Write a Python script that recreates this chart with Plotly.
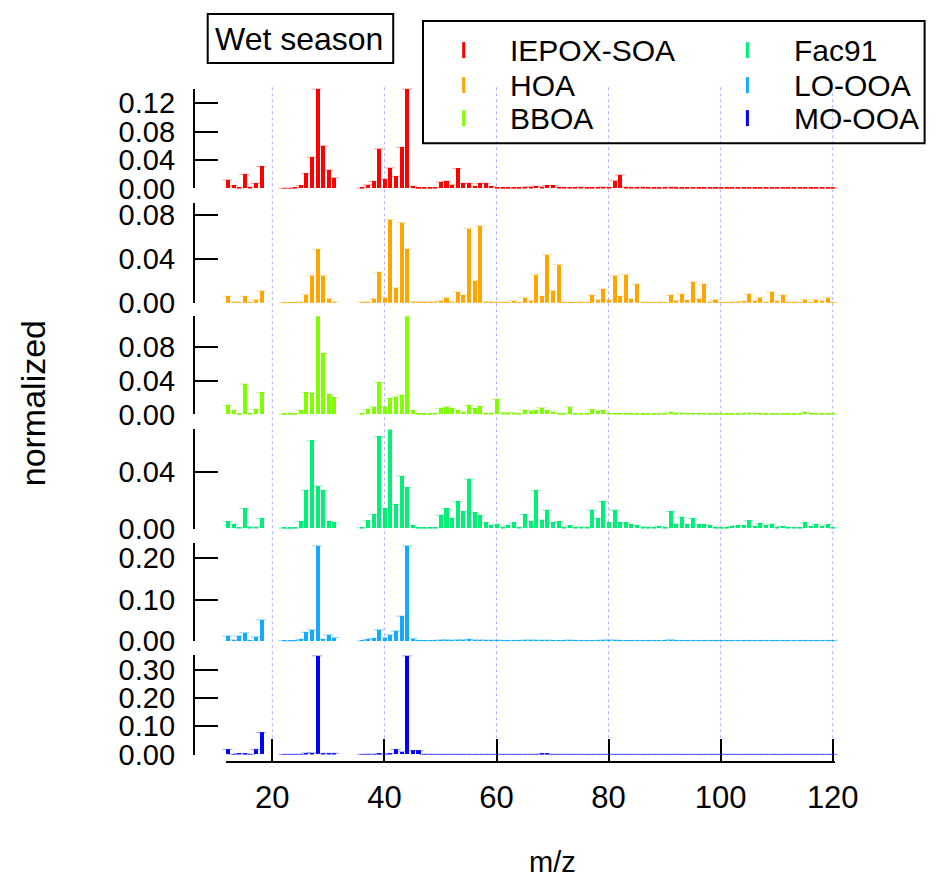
import plotly.graph_objects as go

# m/z channels (19-21 and 32-35 are not in the spectra)
mz = [12, 13, 14, 15, 16, 17, 18,
      22, 23, 24, 25, 26, 27, 28, 29, 30, 31,
      36, 37, 38, 39, 40, 41, 42, 43, 44, 45, 46, 47, 48, 49, 50,
      51, 52, 53, 54, 55, 56, 57, 58, 59, 60, 61, 62, 63, 64, 65,
      66, 67, 68, 69, 70, 71, 72, 73, 74, 75, 76, 77, 78, 79, 80,
      81, 82, 83, 84, 85, 86, 87, 88, 89, 90, 91, 92, 93, 94, 95,
      96, 97, 98, 99, 100, 101, 102, 103, 104, 105, 106, 107, 108, 109, 110,
      111, 112, 113, 114, 115, 116, 117, 118, 119, 120]

iepox_soa = [0.012, 0.004, 0.0005, 0.020, 0.002, 0.007, 0.031,
             0.0003, 0.0003, 0.001, 0.004, 0.021, 0.044, 0.140, 0.060, 0.026, 0.015,
             0.0005, 0.005, 0.010, 0.056, 0.013, 0.029, 0.017, 0.058, 0.140, 0.003, 0.0005, 0.0005, 0.0005, 0.001, 0.009,
             0.010, 0.005, 0.028, 0.007, 0.007, 0.003, 0.007, 0.007, 0.003, 0.001, 0.0005, 0.0005, 0.001, 0.0005, 0.002,
             0.002, 0.003, 0.002, 0.004, 0.004, 0.002, 0.001, 0.001, 0.001, 0.002, 0.001, 0.001, 0.001, 0.002, 0.001,
             0.011, 0.019, 0.002, 0.001, 0.001, 0.002, 0.0005, 0.0005, 0.0005, 0.0005, 0.002, 0.0005, 0.0005, 0.0005, 0.001,
             0.0005, 0.0005, 0.0005, 0.0005, 0.0005, 0.0005, 0.0005, 0.0005, 0.0005, 0.001, 0.0005, 0.0005, 0.0005, 0.0005, 0.0005,
             0.0005, 0.0005, 0.0005, 0.0005, 0.0005, 0.0005, 0.0005, 0.0005, 0.0005, 0.0005]

hoa = [0.006, 0.001, 0.0005, 0.006, 0.0005, 0.003, 0.011,
       0.0003, 0.0003, 0.0003, 0.001, 0.0077, 0.025, 0.049, 0.025, 0.004, 0.001,
       0.0005, 0.001, 0.004, 0.028, 0.005, 0.076, 0.0137, 0.073, 0.049, 0.001, 0.0005, 0.0005, 0.0005, 0.001, 0.002,
       0.005, 0.001, 0.010, 0.007, 0.068, 0.020, 0.070, 0.001, 0.001, 0.0005, 0.0005, 0.0005, 0.002, 0.0005, 0.005,
       0.002, 0.026, 0.006, 0.044, 0.011, 0.035, 0.0005, 0.0005, 0.0005, 0.0005, 0.0005, 0.007, 0.003, 0.0125, 0.003,
       0.025, 0.006, 0.026, 0.004, 0.017, 0.0005, 0.0005, 0.0005, 0.0005, 0.0005, 0.007, 0.002, 0.008, 0.0025, 0.019,
       0.004, 0.017, 0.001, 0.003, 0.0003, 0.0005, 0.0005, 0.001, 0.0015, 0.008, 0.002, 0.005, 0.001, 0.010, 0.002,
       0.007, 0.0005, 0.0005, 0.0005, 0.003, 0.0005, 0.003, 0.0015, 0.005, 0.0005]

bboa = [0.011, 0.005, 0.0005, 0.036, 0.0005, 0.006, 0.026,
        0.0005, 0.0005, 0.0005, 0.005, 0.026, 0.025, 0.117, 0.072, 0.024, 0.020,
        0.0005, 0.006, 0.009, 0.038, 0.009, 0.019, 0.021, 0.023, 0.117, 0.005, 0.001, 0.0005, 0.0005, 0.001, 0.007,
        0.009, 0.007, 0.005, 0.003, 0.011, 0.007, 0.0095, 0.0015, 0.0015, 0.018, 0.002, 0.002, 0.002, 0.0005, 0.0055,
        0.004, 0.005, 0.008, 0.005, 0.003, 0.001, 0.0005, 0.009, 0.0005, 0.001, 0.0005, 0.006, 0.004, 0.005, 0.001,
        0.001, 0.001, 0.001, 0.0005, 0.0005, 0.0005, 0.0005, 0.0005, 0.001, 0.0005, 0.003, 0.0005, 0.002, 0.001, 0.001,
        0.001, 0.001, 0.0005, 0.0005, 0.0005, 0.0005, 0.0005, 0.0005, 0.0005, 0.002, 0.001, 0.001, 0.0005, 0.0005, 0.0005,
        0.0005, 0.0005, 0.0005, 0.0005, 0.003, 0.001, 0.001, 0.0005, 0.001, 0.0005]

fac91 = [0.005, 0.003, 0.0005, 0.014, 0.001, 0.001, 0.007,
         0.0003, 0.0003, 0.0003, 0.005, 0.027, 0.062, 0.030, 0.027, 0.005, 0.004,
         0.0005, 0.0055, 0.010, 0.065, 0.014, 0.071, 0.017, 0.037, 0.029, 0.002, 0.0005, 0.0005, 0.0005, 0.0005, 0.0095,
         0.014, 0.007, 0.019, 0.012, 0.035, 0.011, 0.009, 0.004, 0.002, 0.003, 0.001, 0.002, 0.004, 0.001, 0.010,
         0.005, 0.027, 0.006, 0.013, 0.004, 0.005, 0.001, 0.002, 0.001, 0.001, 0.001, 0.013, 0.007, 0.019, 0.004,
         0.013, 0.004, 0.004, 0.0025, 0.002, 0.001, 0.001, 0.0005, 0.0015, 0.0005, 0.012, 0.003, 0.008, 0.003, 0.007,
         0.0025, 0.0025, 0.002, 0.001, 0.0003, 0.0007, 0.0015, 0.002, 0.002, 0.0055, 0.0015, 0.0035, 0.002, 0.003, 0.001,
         0.0015, 0.0007, 0.0007, 0.0005, 0.004, 0.0015, 0.003, 0.0015, 0.0025, 0.0005]

lo_ooa = [0.012, 0.0025, 0.012, 0.020, 0.001, 0.010, 0.051,
          0.0005, 0.0005, 0.0005, 0.004, 0.021, 0.027, 0.230, 0.004, 0.0145, 0.008,
          0.0005, 0.004, 0.0065, 0.027, 0.008, 0.0145, 0.024, 0.060, 0.230, 0.0055, 0.001, 0.001, 0.001, 0.001, 0.002,
          0.003, 0.001, 0.003, 0.002, 0.004, 0.002, 0.002, 0.002, 0.001, 0.002, 0.001, 0.001, 0.001, 0.001, 0.002,
          0.002, 0.002, 0.001, 0.002, 0.001, 0.001, 0.001, 0.002, 0.001, 0.001, 0.001, 0.001, 0.001, 0.002, 0.002,
          0.002, 0.001, 0.001, 0.001, 0.001, 0.001, 0.001, 0.001, 0.001, 0.001, 0.003, 0.001, 0.001, 0.001, 0.001,
          0.001, 0.001, 0.001, 0.001, 0.001, 0.001, 0.001, 0.001, 0.001, 0.001, 0.001, 0.001, 0.001, 0.001, 0.001,
          0.001, 0.001, 0.001, 0.001, 0.001, 0.001, 0.001, 0.001, 0.001, 0.001]

mo_ooa = [0.018, 0.001, 0.0035, 0.0035, 0.001, 0.018, 0.078,
          0.0005, 0.0005, 0.0005, 0.001, 0.005, 0.006, 0.350, 0.004, 0.004, 0.004,
          0.0005, 0.001, 0.001, 0.002, 0.001, 0.004, 0.018, 0.010, 0.350, 0.014, 0.014, 0.001, 0.001, 0.0005, 0.0005,
          0.0005, 0.0005, 0.0005, 0.0005, 0.0005, 0.0005, 0.0005, 0.0005, 0.0005, 0.0005, 0.0005, 0.0005, 0.0005, 0.0005, 0.0005,
          0.0005, 0.0005, 0.002, 0.002, 0.0005, 0.0005, 0.0005, 0.0005, 0.0005, 0.0005, 0.0005, 0.0005, 0.0005, 0.0005, 0.0005,
          0.0005, 0.0005, 0.0005, 0.0005, 0.0005, 0.0005, 0.0005, 0.0005, 0.0005, 0.0005, 0.0005, 0.0005, 0.0005, 0.0005, 0.0005,
          0.0005, 0.0005, 0.0005, 0.0005, 0.0005, 0.0005, 0.0005, 0.0005, 0.0005, 0.0005, 0.0005, 0.0005, 0.0005, 0.0005, 0.0005,
          0.0005, 0.0005, 0.0005, 0.0005, 0.0005, 0.0005, 0.0005, 0.0005, 0.0005, 0.0005]

names = ['IEPOX-SOA', 'HOA', 'BBOA', 'Fac91', 'LO-OOA', 'MO-OOA']
series = [iepox_soa, hoa, bboa, fac91, lo_ooa, mo_ooa]
colors = ['rgb(255,0,0)', 'rgb(255,165,0)', 'rgb(127,255,0)',
          'rgb(0,240,120)', 'rgb(20,170,255)', 'rgb(0,0,255)']
caps = ['rgba(255,0,0,0.35)', 'rgba(255,165,0,0.35)', 'rgba(127,230,0,0.4)',
        'rgba(0,220,110,0.4)', 'rgba(20,170,255,0.45)', 'rgba(60,60,255,0.45)']
y_tops = [0.140, 0.0913, 0.1163, 0.070, 0.237, 0.352]
y_dticks = [0.04, 0.04, 0.04, 0.04, 0.1, 0.1]
x_ticks = [20, 40, 60, 80, 100, 120]

W, H = 942, 884
# the page ends up slightly shrunk and shifted in the snapshot; undo that
SX, AX = 0.9823, 4.7
SY, AY = 0.9783, 10.9


def px_x(p):
    return (p - AX) / SX / W


def px_y(p):
    return 1 - (p - AY) / SY / H


# panel top/bottom in target pixels
panel_px = [(89, 188.3), (202.7, 302.7), (316, 414.3), (429.3, 528.3), (542.7, 640.7), (655, 754.3)]
FONT = 'Liberation Sans, Arial, sans-serif'

fig = go.Figure()
layout = {}
for i in range(6):
    yname = 'y' if i == 0 else 'y' + str(i + 1)
    fig.add_trace(go.Bar(x=mz, y=series[i], xaxis='x', yaxis=yname, width=0.72,
                         marker=dict(color=colors[i], line=dict(width=0)),
                         showlegend=False, name=names[i]))
    # light cap on top of each bar (gives the dashed baseline look)
    fig.add_trace(go.Scatter(x=mz, y=series[i], xaxis='x', yaxis=yname, mode='markers',
                             marker=dict(symbol='line-ew', size=7,
                                         line=dict(color=caps[i], width=1.2)),
                             cliponaxis=False, showlegend=False, hoverinfo='skip'))
    top, bot = panel_px[i]
    layout['yaxis' if i == 0 else 'yaxis' + str(i + 1)] = dict(
        domain=[px_y(bot), px_y(top)], range=[0, y_tops[i]],
        anchor='free', position=px_x(192),
        tick0=0, dtick=y_dticks[i], tickformat='.2f',
        ticks='inside', ticklen=23, tickwidth=2, tickcolor='black',
        showline=True, linewidth=2, linecolor='black',
        showgrid=False, zeroline=False, ticklabelstandoff=12,
        tickfont=dict(family=FONT, size=29, color='black'))

layout['xaxis'] = dict(domain=[px_x(224), px_x(838)], range=[11.65, 120.35],
                       anchor='free', position=px_y(762),
                       tickvals=x_ticks, ticks='inside', ticklen=22, tickwidth=2,
                       tickcolor='black', showline=True, linewidth=2, linecolor='black',
                       showgrid=False, zeroline=False, ticklabelstandoff=8,
                       tickfont=dict(family=FONT, size=31, color='black'))

shapes = []
# dotted vertical grid through all panels
for xv in x_ticks:
    shapes.append(dict(type='line', xref='x', yref='paper', x0=xv, x1=xv,
                       y0=px_y(762), y1=px_y(86),
                       line=dict(color='rgb(175,175,255)', width=1, dash='dot'), layer='below'))
# title box
shapes.append(dict(type='rect', xref='paper', yref='paper', x0=px_x(206), x1=px_x(393),
                   y0=px_y(63), y1=px_y(14), line=dict(color='black', width=2)))
# legend box
shapes.append(dict(type='rect', xref='paper', yref='paper', x0=px_x(423), x1=min(px_x(938), 0.9985),
                   y0=px_y(143), y1=px_y(21), line=dict(color='black', width=2)))

annotations = [
    dict(text='Wet season', x=px_x(298.5), y=px_y(38.5), xref='paper', yref='paper',
         xanchor='center', yanchor='middle',
         showarrow=False, font=dict(family=FONT, size=32, color='black')),
    dict(text='normalized', x=px_x(30), y=px_y(403), xref='paper', yref='paper',
         xanchor='center', yanchor='middle',
         textangle=-90, showarrow=False, font=dict(family=FONT, size=34, color='black')),
    dict(text='m/z', x=px_x(554), y=px_y(862), xref='paper', yref='paper',
         xanchor='center', yanchor='middle',
         showarrow=False, font=dict(family=FONT, size=29, color='black')),
]

# legend entries: two columns, three rows
leg_x = [464, 750]
leg_y = [50, 85, 118]
for k in range(6):
    col, row = k // 3, k % 3
    sx, sy = leg_x[col], leg_y[row]
    shapes.append(dict(type='line', xref='paper', yref='paper', x0=px_x(sx), x1=px_x(sx),
                       y0=px_y(sy + 8), y1=px_y(sy - 8),
                       line=dict(color=colors[k], width=3)))
    annotations.append(dict(text=names[k], x=px_x(sx + 45), y=px_y(sy),
                            xref='paper', yref='paper', xanchor='left', yanchor='middle',
                            showarrow=False, font=dict(family=FONT, size=30, color='black')))

fig.update_layout(**layout)
fig.update_layout(width=W, height=H, margin=dict(l=0, r=0, t=0, b=0),
                  plot_bgcolor='white', paper_bgcolor='white',
                  bargap=0, shapes=shapes, annotations=annotations,
                  font=dict(family=FONT))

fig.write_html("out.html")
